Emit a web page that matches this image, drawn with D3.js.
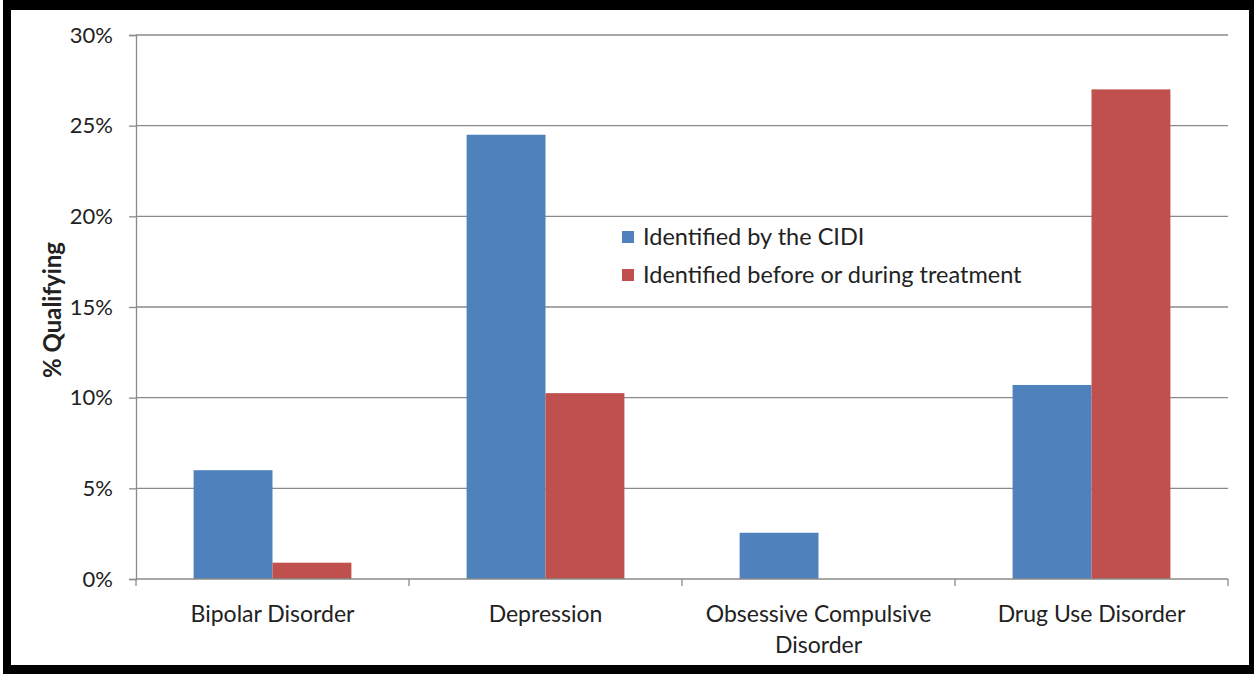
<!DOCTYPE html>
<html>
<head>
<meta charset="utf-8">
<script src="https://cdn.jsdelivr.net/npm/d3@7"></script>
<style>
  html, body { margin: 0; padding: 0; background: #fff; }
  svg { display: block; }
  text { font-family: Lato, "Open Sans", sans-serif; fill: #222; }
</style>
</head>
<body>
<svg id="chart" width="1254" height="675"></svg>
<script>
// Share of patients qualifying for each diagnosis
const categories = [["Bipolar Disorder"], ["Depression"], ["Obsessive Compulsive", "Disorder"], ["Drug Use Disorder"]];
const seriesNames = ["Identified by the CIDI", "Identified before or during treatment"];
const cidiValues = [6.0, 24.5, 2.55, 10.7];
const treatmentValues = [0.9, 10.25, 0, 27.0];
const yTicks = [0, 5, 10, 15, 20, 25, 30];
const colors = ["#4F81BD", "#C0504D"];

const svg = d3.select("#chart");
const W = 1254, H = 675;

// outer frame
svg.append("rect").attr("x", 0).attr("y", 0).attr("width", W).attr("height", H).attr("fill", "#fff");
svg.append("path")
  .attr("d", `M3,0 H1254 V674 H3 Z M11,10 V665 H1249 V10 Z`)
  .attr("fill", "#000").attr("fill-rule", "evenodd");

const plot = { left: 136, right: 1228, top: 35, bottom: 579 };

const x = d3.scaleBand().domain(d3.range(categories.length)).range([plot.left, plot.right]);
const inner = d3.scaleBand().domain([0, 1]).range([0, x.bandwidth()]).paddingInner(0).paddingOuter(0.73);
const y = d3.scaleLinear().domain([0, 30]).range([plot.bottom, plot.top]);

const axisGrey = "#8a8a8a";

// gridlines
svg.append("g").selectAll("line").data(yTicks.filter(t => t > 0)).join("line")
  .attr("x1", plot.left).attr("x2", plot.right)
  .attr("y1", d => y(d)).attr("y2", d => y(d))
  .attr("stroke", axisGrey).attr("stroke-width", 1.3);

// y axis
const yAxis = svg.append("g").attr("transform", `translate(${plot.left},0)`)
  .call(d3.axisLeft(y).tickValues(yTicks).tickFormat(d => d + "%").tickSize(7).tickPadding(16));
yAxis.select(".domain").attr("stroke", axisGrey).attr("stroke-width", 1.3);
yAxis.selectAll(".tick line").attr("stroke", axisGrey).attr("stroke-width", 1.3);
yAxis.selectAll(".tick text").style("font-size", "22px").attr("fill", "#222").style("font-family", "Lato, sans-serif");

// bars
const series = [cidiValues, treatmentValues];
series.forEach((vals, si) => {
  svg.append("g").selectAll("rect").data(vals).join("rect")
    .attr("x", (d, i) => x(i) + inner(si))
    .attr("width", inner.bandwidth())
    .attr("y", d => y(d))
    .attr("height", d => y(0) - y(d))
    .attr("fill", colors[si]);
});

// x axis
const xAxis = svg.append("g").attr("transform", `translate(0,${plot.bottom})`);
xAxis.append("line").attr("x1", plot.left).attr("x2", plot.right)
  .attr("stroke", axisGrey).attr("stroke-width", 1.3);
xAxis.selectAll("line.tk").data(d3.range(categories.length + 1)).join("line").attr("class", "tk")
  .attr("x1", i => plot.left + i * x.bandwidth()).attr("x2", i => plot.left + i * x.bandwidth())
  .attr("y1", 0).attr("y2", 7).attr("stroke", axisGrey).attr("stroke-width", 1.3);
categories.forEach((lines, i) => {
  const cx = x(i) + x.bandwidth() / 2;
  const t = xAxis.append("text").attr("text-anchor", "middle")
    .attr("x", cx).attr("y", 43).style("font-size", "23px");
  lines.forEach((ln, k) => t.append("tspan").attr("x", cx).attr("dy", k === 0 ? 0 : 31).text(ln));
});

// y axis title
svg.append("text").attr("transform", "translate(61,310) rotate(-90)")
  .attr("text-anchor", "middle").style("font-size", "24px").style("font-weight", "bold")
  .text("% Qualifying");

// legend
const legend = svg.append("g").attr("transform", "translate(622,245)");
seriesNames.forEach((name, i) => {
  legend.append("rect").attr("x", 0).attr("y", i * 38 - 14).attr("width", 12).attr("height", 12).attr("fill", colors[i]);
  legend.append("text").attr("x", 21).attr("y", i * 38).style("font-size", "23.5px").text(name);
});
</script>
</body>
</html>
